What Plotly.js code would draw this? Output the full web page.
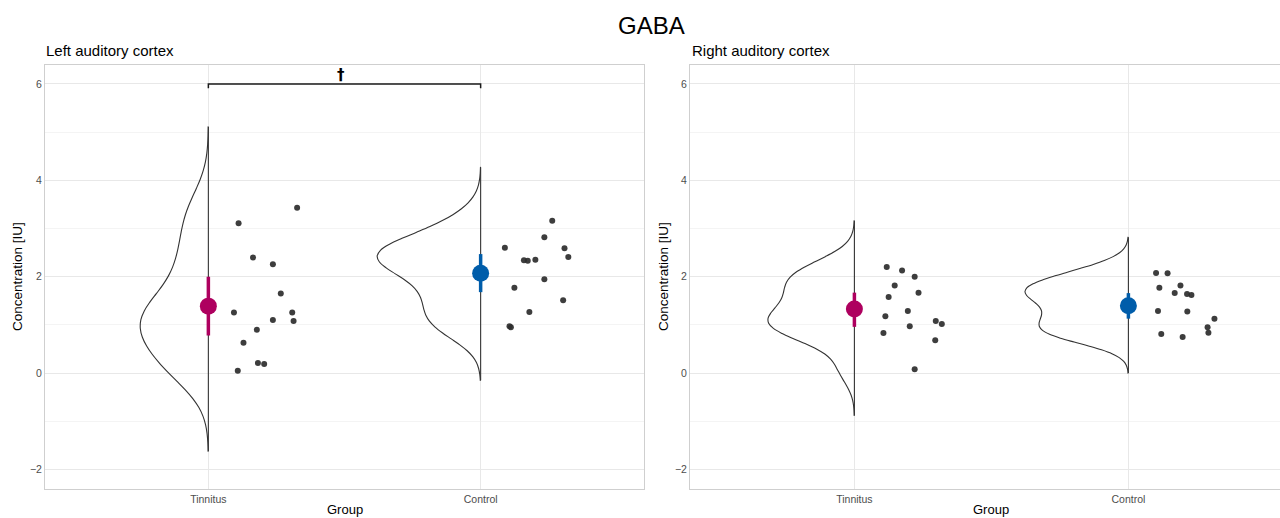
<!DOCTYPE html>
<html>
<head>
<meta charset="utf-8">
<script src="https://cdn.plot.ly/plotly-3.0.1.min.js"></script>
<style>html,body{margin:0;padding:0;background:#fff;}#chart{width:1280px;height:518px;}</style>
</head>
<body>
<div id="chart"></div>
<script>
// ---------------- data ----------------
const groups = ['Tinnitus', 'Control'];
const groupPos = [1, 2];

// Left auditory cortex
const leftTinnitusY = [3.43, 3.11, 2.40, 2.26, 1.65, 1.26, 1.26, 1.10, 1.08, 0.90, 0.63, 0.21, 0.19, 0.05];
const leftTinnitusX = [1.326, 1.111, 1.164, 1.237, 1.266, 1.094, 1.308, 1.237, 1.313, 1.178, 1.129, 1.182, 1.205, 1.108];
const leftControlY = [3.16, 2.82, 2.60, 2.59, 2.41, 2.34, 2.33, 2.35, 1.95, 1.77, 1.51, 1.27, 0.97, 0.95];
const leftControlX = [2.263, 2.234, 2.089, 2.308, 2.322, 2.159, 2.173, 2.201, 2.234, 2.124, 2.303, 2.179, 2.106, 2.111];

// Right auditory cortex
const rightTinnitusY = [2.20, 2.13, 2.00, 1.82, 1.67, 1.58, 1.29, 1.18, 0.97, 1.08, 1.02, 0.83, 0.68, 0.08];
const rightTinnitusX = [1.118, 1.174, 1.220, 1.147, 1.234, 1.125, 1.195, 1.113, 1.202, 1.297, 1.319, 1.106, 1.295, 1.220];
const rightControlY = [2.08, 2.07, 1.77, 1.82, 1.66, 1.64, 1.62, 1.29, 1.28, 1.13, 0.95, 0.84, 0.81, 0.75];
const rightControlX = [2.101, 2.143, 2.113, 2.190, 2.169, 2.214, 2.230, 2.108, 2.215, 2.314, 2.289, 2.292, 2.120, 2.198];

// Means and interval ends [Tinnitus, Control]
const leftMean = [1.39, 2.07];
const leftLow = [0.78, 1.68];
const leftHigh = [2.00, 2.47];
const rightMean = [1.33, 1.40];
const rightLow = [0.96, 1.13];
const rightHigh = [1.67, 1.66];

// Density estimate settings [Tinnitus, Control]
const leftBandwidth = [0.557, 0.37];
const leftSpan = [[-1.62, 5.11], [-0.15, 4.27]];
const leftViolinWidth = [0.50, 0.76];
const rightBandwidth = [0.32, 0.248];
const rightSpan = [[-0.88, 3.16], [0.0, 2.82]];
const rightViolinWidth = [0.63, 0.755];

// Significance bracket (left panel)
const sigPair = [1, 2];
const sigLevel = 6;
const sigTick = 0.09;
const sigLabel = '†';

const yTickVals = [-2, 0, 2, 4, 6];

// ---------------- styling ----------------
const W = 1280, H = 518;
const colors = ['#AE005F', '#005DAA'];
const font = 'Liberation Sans, Arial, Helvetica, sans-serif';
const px = v => v / W;
const py = v => 1 - v / H;
const lineCol = '#333333';

function violin(y, pos, bw, span, wid, xa, ya) {
  return {
    type: 'violin', x0: pos, y: y, xaxis: xa, yaxis: ya,
    side: 'negative', width: wid, scalemode: 'width',
    bandwidth: bw, spanmode: 'manual', span: span,
    points: false, box: {visible: false}, meanline: {visible: false},
    line: {color: lineCol, width: 1.1}, fillcolor: 'rgba(0,0,0,0)',
    hoverinfo: 'skip', showlegend: false
  };
}
function flatSide(pos, span, xa, ya) {
  return {type: 'scatter', mode: 'lines', x: [pos, pos], y: span, xaxis: xa, yaxis: ya,
    line: {color: lineCol, width: 1.1}, showlegend: false, hoverinfo: 'skip'};
}
function pts(x, y, xa, ya) {
  return {type: 'scatter', mode: 'markers', x: x, y: y, xaxis: xa, yaxis: ya,
    marker: {size: 6, color: 'rgba(45,45,45,0.92)'}, showlegend: false, hoverinfo: 'y'};
}
function meanTrace(i, mean, low, high, xa, ya) {
  return {type: 'scatter', mode: 'markers', x: [groupPos[i]], y: [mean[i]], xaxis: xa, yaxis: ya,
    marker: {size: 17, color: colors[i]},
    error_y: {type: 'data', symmetric: false, array: [high[i] - mean[i]], arrayminus: [mean[i] - low[i]],
      color: colors[i], thickness: 3.5, width: 0},
    showlegend: false, hoverinfo: 'y'};
}

const traces = [
  violin(leftTinnitusY, groupPos[0], leftBandwidth[0], leftSpan[0], leftViolinWidth[0], 'x', 'y'),
  violin(leftControlY, groupPos[1], leftBandwidth[1], leftSpan[1], leftViolinWidth[1], 'x', 'y'),
  violin(rightTinnitusY, groupPos[0], rightBandwidth[0], rightSpan[0], rightViolinWidth[0], 'x2', 'y2'),
  violin(rightControlY, groupPos[1], rightBandwidth[1], rightSpan[1], rightViolinWidth[1], 'x2', 'y2'),
  flatSide(groupPos[0], leftSpan[0], 'x', 'y'),
  flatSide(groupPos[1], leftSpan[1], 'x', 'y'),
  flatSide(groupPos[0], rightSpan[0], 'x2', 'y2'),
  flatSide(groupPos[1], rightSpan[1], 'x2', 'y2'),
  {type: 'scatter', mode: 'lines', xaxis: 'x', yaxis: 'y',
   x: [sigPair[0], sigPair[0], sigPair[1], sigPair[1]],
   y: [sigLevel - sigTick, sigLevel, sigLevel, sigLevel - sigTick],
   line: {color: '#1a1a1a', width: 1.5}, showlegend: false, hoverinfo: 'skip'},
  pts(leftTinnitusX, leftTinnitusY, 'x', 'y'),
  pts(leftControlX, leftControlY, 'x', 'y'),
  pts(rightTinnitusX, rightTinnitusY, 'x2', 'y2'),
  pts(rightControlX, rightControlY, 'x2', 'y2'),
  meanTrace(0, leftMean, leftLow, leftHigh, 'x', 'y'),
  meanTrace(1, leftMean, leftLow, leftHigh, 'x', 'y'),
  meanTrace(0, rightMean, rightLow, rightHigh, 'x2', 'y2'),
  meanTrace(1, rightMean, rightLow, rightHigh, 'x2', 'y2')
];

const yDomain = [py(489), py(65)];
const yRange = [-2.405, 6.394];
function xAxis(domain, range, anchor) {
  return {domain: domain, range: range, anchor: anchor, tickvals: groupPos, ticktext: groups,
    showgrid: true, gridcolor: '#e8e8e8', gridwidth: 1, zeroline: false,
    showline: true, mirror: true, linecolor: '#cfcfcf', linewidth: 1,
    ticks: '', tickfont: {family: font, size: 10.5, color: '#4d4d4d'}, automargin: false, fixedrange: true};
}
function yAxis(anchor) {
  return {domain: yDomain, range: yRange, anchor: anchor, tickvals: yTickVals,
    tickmode: 'array', showgrid: true, gridcolor: '#e8e8e8', gridwidth: 1, zeroline: false,
    minor: {dtick: 1, tick0: 1, showgrid: true, gridcolor: '#f4f4f4', gridwidth: 1, ticks: ''},
    showline: true, mirror: true, linecolor: '#cfcfcf', linewidth: 1,
    ticks: '', tickfont: {family: font, size: 10.5, color: '#4d4d4d'}, automargin: false, fixedrange: true};
}

const layout = {
  width: W, height: H, margin: {l: 0, r: 0, t: 0, b: 0},
  paper_bgcolor: '#ffffff', plot_bgcolor: '#ffffff',
  violinmode: 'overlay', showlegend: false,
  font: {family: font, color: '#000'},
  xaxis: xAxis([px(45), px(644)], [0.4, 2.6], 'y'),
  yaxis: yAxis('x'),
  xaxis2: xAxis([px(690), 1], [0.4, 0.4 + 590 / 274], 'y2'),
  yaxis2: yAxis('x2'),
  annotations: [
    {text: 'GABA', xref: 'paper', yref: 'paper', x: px(651), y: py(25), xanchor: 'center', yanchor: 'middle',
     showarrow: false, font: {family: font, size: 24, color: '#000'}},
    {text: 'Left auditory cortex', xref: 'paper', yref: 'paper', x: px(44), y: py(50), xanchor: 'left', yanchor: 'middle',
     showarrow: false, font: {family: font, size: 15, color: '#000'}},
    {text: 'Right auditory cortex', xref: 'paper', yref: 'paper', x: px(690), y: py(50), xanchor: 'left', yanchor: 'middle',
     showarrow: false, font: {family: font, size: 15, color: '#000'}},
    {text: 'Concentration [IU]', xref: 'paper', yref: 'paper', x: px(17), y: py(277), textangle: -90,
     xanchor: 'center', yanchor: 'middle', showarrow: false, font: {family: font, size: 13.5, color: '#000'}},
    {text: 'Concentration [IU]', xref: 'paper', yref: 'paper', x: px(663), y: py(277), textangle: -90,
     xanchor: 'center', yanchor: 'middle', showarrow: false, font: {family: font, size: 13.5, color: '#000'}},
    {text: 'Group', xref: 'paper', yref: 'paper', x: px(345), y: py(509), xanchor: 'center', yanchor: 'middle',
     showarrow: false, font: {family: font, size: 13, color: '#000'}},
    {text: 'Group', xref: 'paper', yref: 'paper', x: px(991), y: py(509), xanchor: 'center', yanchor: 'middle',
     showarrow: false, font: {family: font, size: 13, color: '#000'}},
    {text: '<b>' + sigLabel + '</b>', xref: 'x', yref: 'y', x: (sigPair[0] + sigPair[1]) / 2, y: sigLevel, xanchor: 'center', yanchor: 'bottom',
     xshift: -4, yshift: -2, showarrow: false, font: {family: 'DejaVu Sans', size: 15, color: '#000'}}
  ]
};

Plotly.newPlot('chart', traces, layout, {displayModeBar: false, staticPlot: true});
</script>
</body>
</html>
